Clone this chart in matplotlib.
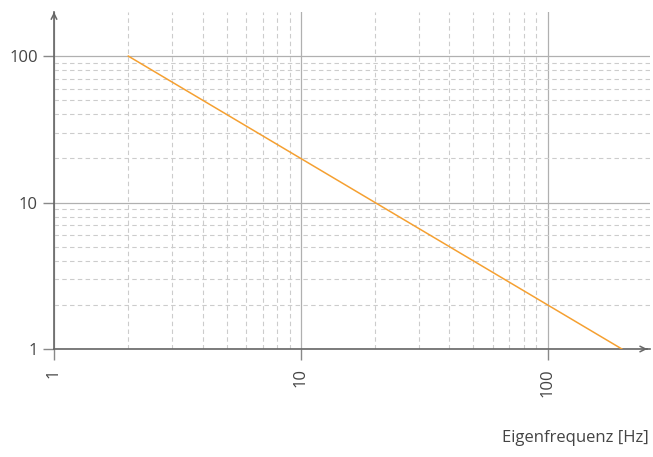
import numpy as np
import matplotlib
matplotlib.use('Agg')
import matplotlib.pyplot as plt
from matplotlib.ticker import FixedLocator, NullFormatter

plt.rcParams['font.family'] = ['Open Sans', 'DejaVu Sans']

# data
freq = [2, 200]
values = [100, 1]
x_ticks = [1, 10, 100]
y_ticks = [1, 10, 100]
x_label = 'Eigenfrequenz [Hz]'

# minor grid only inside the 1..100 decades
minor = [m * d for d in (1, 10) for m in range(2, 10)]

fig = plt.figure(figsize=(6.53, 4.57), dpi=100)
ax = fig.add_axes([54 / 653, 108 / 457, 596 / 653, 337 / 457])

ax.set_xscale('log')
ax.set_yscale('log')
ax.set_xlim(1, 260)
ax.set_ylim(1, 200)

ax.plot(freq, values, color='#f5a031', linewidth=1.1, zorder=3)

ax.xaxis.set_major_locator(FixedLocator(x_ticks))
ax.yaxis.set_major_locator(FixedLocator(y_ticks))
ax.set_xticklabels([str(v) for v in x_ticks], rotation=90)
ax.set_yticklabels([str(v) for v in y_ticks])
ax.xaxis.set_minor_locator(FixedLocator(minor))
ax.yaxis.set_minor_locator(FixedLocator(minor))
ax.xaxis.set_minor_formatter(NullFormatter())
ax.yaxis.set_minor_formatter(NullFormatter())

ax.grid(which='major', color='#b0b0b0', linestyle='-', linewidth=0.9)
ax.grid(which='minor', color='#cccccc', linestyle=(0, (4, 3)), linewidth=0.8)

ax.tick_params(which='major', length=8, width=1, color='#888888',
               labelcolor='#444444', labelsize=12)
ax.tick_params(axis='x', pad=6)
ax.tick_params(which='minor', length=0)

for s in ['top', 'right']:
    ax.spines[s].set_visible(False)
for s in ['left', 'bottom']:
    ax.spines[s].set_color('#666666')
    ax.spines[s].set_linewidth(1.2)

# arrow heads on axes
ax.annotate('', xy=(1.0, 0), xytext=(0.99, 0), xycoords='axes fraction',
            arrowprops=dict(arrowstyle='->', color='#666666', lw=1.1))
ax.annotate('', xy=(0, 1.0), xytext=(0, 0.985), xycoords='axes fraction',
            arrowprops=dict(arrowstyle='->', color='#666666', lw=1.1))

fig.text(649 / 653, 1 - 438 / 457, x_label, ha='right', va='center',
         fontsize=12, color='#444444')

fig.savefig('out.png', dpi=100)
